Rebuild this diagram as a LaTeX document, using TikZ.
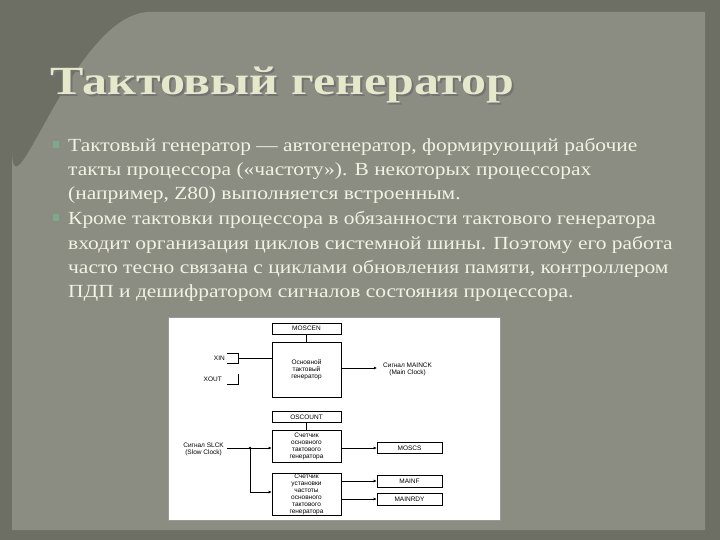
\documentclass[tikz,border=0pt]{standalone}
\usepackage{fontspec}
\setmainfont{Liberation Serif}
\setsansfont{Liberation Sans}
\newfontfamily\bodyfont[FakeStretch=1.16]{Liberation Serif}
\newfontfamily\titlefont[FakeStretch=1.25]{Liberation Serif Bold}
\usetikzlibrary{arrows.meta}
\definecolor{outerbg}{HTML}{6E6F64}
\definecolor{panel}{HTML}{8B8D82}
\definecolor{cream}{HTML}{F2F2E4}
\definecolor{titlec}{HTML}{E6E8CC}
\definecolor{bul}{HTML}{7FA88A}
\tikzset{
  body/.style={anchor=base west,text=cream,font=\bodyfont\fontsize{18.5}{20}\selectfont,inner sep=0pt},
  blk/.style={draw=black,line width=0.6pt,fill=white},
  lbl/.style={font=\sffamily\fontsize{6.5}{7}\selectfont,align=center,inner sep=0pt},
  arr/.style={line width=0.6pt,-{Latex[length=3pt,width=3pt]}},
  ln/.style={line width=0.6pt}
}
\begin{document}
\begin{tikzpicture}[x=1pt,y=-1pt]
\fill[outerbg] (0,0) rectangle (720,540);
\fill[panel] (12,150) to[out=-90,in=180] (150,12) -- (705,12) -- (705,530) -- (12,530) -- cycle;
\useasboundingbox (0,0) rectangle (720,540);
\node[anchor=base west,text=black!55,font=\titlefont\fontsize{40}{42}\selectfont,inner sep=0pt] (shadow) at (52,97) {Тактовый генератор};
\node[anchor=base west,text=titlec,font=\titlefont\fontsize{40}{42}\selectfont,inner sep=0pt] (title) at (50,95) {Тактовый генератор};
\fill[bul] (53,141) rectangle (59,148);
\fill[bul] (53,214) rectangle (59,221);
\node[body] (l1) at (68,152) {Тактовый генератор — автогенератор, формирующий рабочие};
\node[body] (l2) at (68,176) {такты процессора («частоту»). В некоторых процессорах};
\node[body] (l3) at (68,200) {(например, Z80) выполняется встроенным.};
\node[body] (l4) at (68,225) {Кроме тактовки процессора в обязанности тактового генератора};
\node[body] (l5) at (68,249) {входит организация циклов системной шины. Поэтому его работа};
\node[body] (l6) at (68,273) {часто тесно связана с циклами обновления памяти, контроллером};
\node[body] (l7) at (68,297) {ПДП и дешифратором сигналов состояния процессора.};
% diagram
\fill[white] (168,317) rectangle (500,520);
\draw[ln,black!40] (168,317) rectangle (500,520);
\node[blk,minimum width=69,minimum height=11,lbl] (mosc) at (306.5,328.5) {MOSCEN};
\node[blk,minimum width=69,minimum height=55,lbl] (main) at (306.5,369.5) {Основной\\тактовый\\генератор};
\draw[ln] (mosc.south) -- (main.north);
\node[lbl,anchor=east] (xin) at (225,358) {XIN};
\node[lbl,anchor=east] (xout) at (222,379) {XOUT};
\draw[ln] (227,353) -- (238,353) -- (238,363) -- (227,363);
\draw[ln] (238,358) -- (main.west |- 0,358);
\draw[ln] (238,374) -- (238,384) -- (227,384);
\coordinate (mout) at (377,368);
\draw[arr] (main.east |- mout) -- (mout);
\node[lbl,anchor=west] (mainck) at (383,369) {Сигнал MAINCK\\(Main Clock)};
\node[blk,minimum width=69,minimum height=11,lbl] (oscount) at (306.5,417) {OSCOUNT};
\node[blk,minimum width=69,minimum height=32,lbl] (cnt) at (306.5,446) {Счетчик\\основного\\тактового\\генератора};
\draw[ln] (oscount.south) -- (cnt.north);
\node[blk,minimum width=69,minimum height=42,lbl] (cnt2) at (306.5,494) {Счетчик\\установки\\частоты\\основного\\тактового\\генератора};
\node[blk,minimum width=65,minimum height=11,lbl] (moscs) at (409.5,448) {MOSCS};
\node[blk,minimum width=65,minimum height=12,lbl] (mainf) at (409.5,481) {MAINF};
\node[blk,minimum width=65,minimum height=12,lbl] (mainrdy) at (409.5,499) {MAINRDY};
\node[lbl,anchor=east] (slck) at (224,449) {Сигнал SLCK\\(Slow Clock)};
\coordinate (j) at (250,448);
\draw[ln] (227,448) -- (j);
\draw[arr] (j) -- (cnt.west |- j);
\draw[arr] (j) -- (250,492) -- (cnt2.west |- 0,492);
\fill (j) circle (1.3);
\draw[arr] (cnt.east |- moscs) -- (moscs.west);
\draw[arr] (cnt2.east |- mainf) -- (mainf.west);
\draw[arr] (cnt2.east |- mainrdy) -- (mainrdy.west);
\end{tikzpicture}
\end{document}
